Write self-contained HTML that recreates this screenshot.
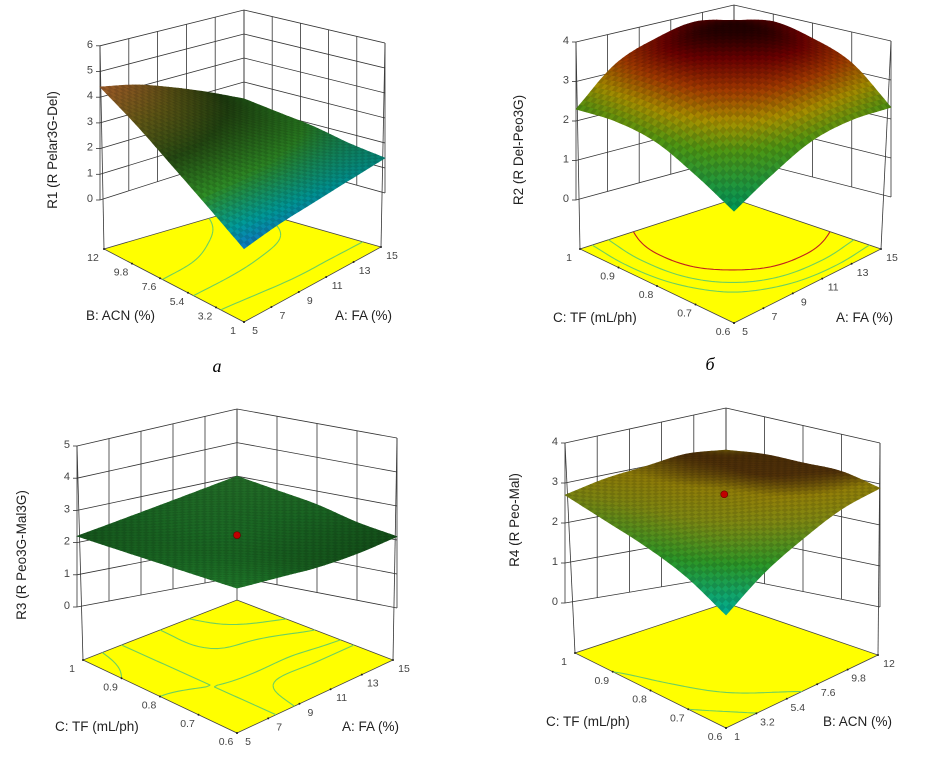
<!DOCTYPE html>
<html><head><meta charset="utf-8"><style>
html,body{margin:0;padding:0;background:#fff;}
svg{display:block;font-family:"Liberation Sans",sans-serif;}
</style></head><body>
<svg id="chart" width="927" height="758" viewBox="0 0 927 758">
<rect width="927" height="758" fill="#fff"/>
<text x="217" y="372" font-family="Liberation Serif" font-style="italic" font-size="18" text-anchor="middle">а</text>
<text x="710" y="370" font-family="Liberation Serif" font-style="italic" font-size="18" text-anchor="middle">б</text>
</svg>
<script>
// ---- data (grid rows = left-axis variable low->high, cols = right-axis variable low->high)
const gridA = [[0.9,1.1,1.2,1.3,1.4],[1.8,1.8,1.8,1.7,1.6],[2.7,2.6,2.4,2.2,1.9],[3.6,3.4,3.0,2.6,2.1],[4.4,4.1,3.6,3.0,2.3]];
const gridB = [[1.4,1.9,2.3,2.4,2.3],[1.9,2.8,3.3,3.4,3.2],[2.3,3.3,3.7,3.9,3.6],[2.4,3.4,3.9,4.0,3.8],[2.3,3.2,3.6,3.8,3.6]];
const gridC = [[2.6,2.4,2.2,2.1,2.1],[2.5,2.4,2.3,2.3,2.3],[2.4,2.4,2.5,2.5,2.6],[2.3,2.4,2.6,2.7,2.8],[2.2,2.4,2.6,2.8,3.0]];
const gridD = [[1.5,2.1,2.5,2.8,2.9],[2.0,2.5,2.8,3.0,3.1],[2.3,2.7,2.9,3.1,3.1],[2.5,2.8,3.0,3.1,3.1],[2.7,2.9,3.0,3.1,3.0]];
const zTicksA = [0,1,2,3,4,5,6];
const zTicksB = [0,1,2,3,4];
const zTicksC = [0,1,2,3,4,5];
const zTicksD = [0,1,2,3,4];
const ticksFA = ["5","7","9","11","13","15"];
const ticksACN = ["1","3.2","5.4","7.6","9.8","12"];
const ticksTF = ["0.6","0.7","0.8","0.9","1"];
const centerPointC = [2.45];
const centerPointD = [2.95];

const NS="http://www.w3.org/2000/svg";
const svg=document.getElementById('chart');
function mk(tag,attrs,parent){const e=document.createElementNS(NS,tag);for(const k in attrs)e.setAttribute(k,attrs[k]);(parent||svg).appendChild(e);return e;}

function cr(p0,p1,p2,p3,t){return 0.5*((2*p1)+(-p0+p2)*t+(2*p0-5*p1+4*p2-p3)*t*t+(-p0+3*p1-3*p2+p3)*t*t*t);}
function interp1(arr,x){const n=arr.length-1;let i=Math.min(Math.floor(x),n-1);const t=x-i;
 const g=k=>arr[Math.max(0,Math.min(n,k))];
 const e0=(i-1<0)?2*g(0)-g(1):g(i-1); const e3=(i+2>n)?2*g(n)-g(n-1):g(i+2);
 return cr(e0,g(i),g(i+1),e3,t);}
function val(grid,u,v){const n=grid.length-1;const rows=grid.map(r=>interp1(r,u*(r.length-1)));return interp1(rows,v*n);}
function bil(c,u,v){return c.F*(1-u)*(1-v)+c.R*u*(1-v)+c.L*(1-u)*v+c.B*u*v;}

function colorAt(stops,z){
 if(z<=stops[0][0])return stops[0][1];
 for(let i=1;i<stops.length;i++){if(z<=stops[i][0]){const a=stops[i-1],b=stops[i];const t=(z-a[0])/(b[0]-a[0]);return a[1].map((c,k)=>Math.round(c+(b[1][k]-c)*t));}}
 return stops[stops.length-1][1];}

function drawPanel(cfg){
 const g=mk('g',{},svg);
 
 
 const zmax=cfg.zTicks[cfg.zTicks.length-1];
 const P=(u,v,z)=>[bil(cfg.x0,u,v), bil(cfg.y0,u,v)-z*bil(cfg.h,u,v)];
 const Fl=(u,v)=>[bil(cfg.fx,u,v),bil(cfg.fy,u,v)];
 const line=(a,b,name,col,w)=>{const l=mk('line',{x1:a[0],y1:a[1],x2:b[0],y2:b[1],stroke:col||'#333','stroke-width':w||0.8},g);return l;};
 const fp=[Fl(0,0),Fl(1,0),Fl(1,1),Fl(0,1)];
 const floor=mk('polygon',{points:fp.map(p=>p.join(',')).join(' '),fill:'#ffff00',stroke:'#444','stroke-width':0.8},g);
 
 
 const N=40;
 cfg.levels.forEach(lv=>{
  let d='';
  for(let i=0;i<N;i++)for(let j=0;j<N;j++){
   const u0=i/N,u1=(i+1)/N,v0=j/N,v1=(j+1)/N;
   const c=[[u0,v0],[u1,v0],[u1,v1],[u0,v1]].map(p=>[p[0],p[1],val(cfg.grid,p[0],p[1])-lv[0]]);
   const pts=[];
   for(let k=0;k<4;k++){const a=c[k],b=c[(k+1)%4];if((a[2]<0)!==(b[2]<0)){const t=a[2]/(a[2]-b[2]);pts.push(Fl(a[0]+(b[0]-a[0])*t,a[1]+(b[1]-a[1])*t));}}
   if(pts.length>=2)d+='M'+pts[0].join(',')+'L'+pts[1].join(',');
  }
  const p=mk('path',{d:d,stroke:lv[1],'stroke-width':1.1,fill:'none'},g);
  
  
 });
 cfg.zTicks.forEach(z=>{
  line(P(0,1,z),P(1,1,z),'left-wall-gridline');
  line(P(1,1,z),P(1,0,z),'right-wall-gridline');
  const lp=P(0,1,z);
  line([lp[0]-4,lp[1]],lp,'z-tick');
  const t=mk('text',{x:lp[0]-7,y:lp[1]+2,'font-size':11,fill:'#444','text-anchor':'end'},g);
  t.textContent=z;
  
  
 });
 const nu=cfg.uTicks.length-1,nv=cfg.vTicks.length-1;
 cfg.uTicks.forEach((s,i)=>{const u=i/nu;line(P(u,1,0),P(u,1,zmax),'left-wall-vline');});
 cfg.vTicks.forEach((s,i)=>{const v=i/nv;line(P(1,v,0),P(1,v,zmax),'right-wall-vline');});
 line(Fl(0,1),P(0,1,zmax),'left-vertical-edge');
 line(Fl(1,0),P(1,0,zmax),'right-vertical-edge');
 line(Fl(1,1),P(1,1,0),'back-vertical-edge');
 cfg.vTicks.forEach((s,i)=>{const v=i/nv;const p=Fl(0,v);
  const t=mk('text',{x:p[0]-11,y:p[1]+12,'font-size':10.5,fill:'#444','text-anchor':'middle'},g);t.textContent=s;
  
  
  mk('circle',{cx:p[0],cy:p[1],r:1,fill:'#222'},g);});
 cfg.uTicks.forEach((s,i)=>{const u=i/nu;const p=Fl(u,0);
  const t=mk('text',{x:p[0]+11,y:p[1]+12,'font-size':10.5,fill:'#444','text-anchor':'middle'},g);t.textContent=s;
  
  
  mk('circle',{cx:p[0],cy:p[1],r:1,fill:'#222'},g);});
 const M=44;const quads=[];
 for(let i=0;i<M;i++)for(let j=0;j<M;j++){quads.push([i,j]);}
 quads.sort((a,b)=>(b[0]+b[1])-(a[0]+a[1]));
 const sg=mk('g',{},g);
 
 
 let cache={};
 const Z=(i,j)=>{const k=i+'_'+j;if(!(k in cache))cache[k]=val(cfg.grid,i/M,j/M);return cache[k];};
 quads.forEach(([i,j])=>{
  const pts=[[i,j],[i+1,j],[i+1,j+1],[i,j+1]].map(p=>P(p[0]/M,p[1]/M,Z(p[0],p[1])));
  const zc=(Z(i,j)+Z(i+1,j)+Z(i+1,j+1)+Z(i,j+1))/4;
  let c=colorAt(cfg.stops,zc);
  const dk=1-cfg.depth*((i+j)/(2*M));
  const tex=((i+j)%2)?0.88:1;
  c=c.map(x=>Math.round(x*dk*tex));
  const col='rgb('+c.join(',')+')';
  mk('polygon',{points:pts.map(p=>p[0].toFixed(1)+','+p[1].toFixed(1)).join(' '),fill:col,stroke:col,'stroke-width':0.6},sg);
 });
 if(cfg.center){const p=P(0.5,0.5,cfg.center[0]);const d=mk('circle',{cx:p[0],cy:p[1],r:3.5,fill:'#c00000',stroke:'#600','stroke-width':0.6},g);
  
  }
 const yt=mk('text',{transform:'translate('+cfg.ytitle[0]+','+cfg.ytitle[1]+') rotate(-90)','font-size':13.5,fill:'#222','text-anchor':'middle'},g);
 yt.textContent=cfg.ytitle[2];
 
 
 const lt=mk('text',{x:cfg.ltitle[0],y:cfg.ltitle[1],'font-size':13.5,fill:'#222'},g);
 lt.textContent=cfg.ltitle[2];
 
 
 const rt=mk('text',{x:cfg.rtitle[0],y:cfg.rtitle[1],'font-size':13.5,fill:'#222'},g);
 rt.textContent=cfg.rtitle[2];
 
 
}

drawPanel({name:'panel-a-r1',grid:gridA,zTicks:zTicksA,uTicks:ticksFA,vTicks:ticksACN,
 x0:{F:244,R:385,L:100,B:244},y0:{F:273,R:193,L:200,B:154},h:{F:27,R:25,L:25.7,B:24},
 fx:{F:244,R:381,L:104,B:244},fy:{F:322,R:247,L:249,B:208},
 stops:[[0.8,[20,110,200]],[1.3,[0,160,160]],[2.0,[50,150,40]],[2.8,[40,80,20]],[3.6,[110,100,25]],[4.5,[200,110,50]]],depth:0.35,
 levels:[[1.5,'#6cd060'],[2.2,'#6cd060'],[3.0,'#6cd060']],
 ytitle:[57,150,'R1 (R Pelar3G-Del)'],ltitle:[86,320,'B: ACN (%)'],rtitle:[335,320,'A: FA (%)']});

drawPanel({name:'panel-b-r2',grid:gridB,zTicks:zTicksB,uTicks:ticksFA,vTicks:ticksTF,
 x0:{F:734,R:891,L:576,B:734},y0:{F:270,R:197,L:200,B:157},h:{F:42,R:39,L:39.5,B:38},
 fx:{F:734,R:881,L:580,B:734},fy:{F:323,R:249,L:249,B:199},
 stops:[[1.4,[0,150,90]],[2.3,[80,155,20]],[2.8,[175,150,0]],[3.3,[170,60,0]],[3.7,[115,0,0]],[4.0,[40,0,0]]],depth:0.15,
 levels:[[2.6,'#6cd060'],[3.0,'#6cd060'],[3.4,'#c02020']],
 ytitle:[523,150,'R2 (R Del-Peo3G)'],ltitle:[553,322,'C: TF (mL/ph)'],rtitle:[836,322,'A: FA (%)']});

drawPanel({name:'panel-c-r3',grid:gridC,zTicks:zTicksC,uTicks:ticksFA,vTicks:ticksTF,
 x0:{F:237,R:397,L:77,B:237},y0:{F:674,R:608,L:607,B:577},h:{F:33,R:34,L:32.2,B:33.6},
 fx:{F:237,R:393,L:83,B:237},fy:{F:733,R:660,L:660,B:600},
 stops:[[2.0,[20,80,25]],[2.5,[30,115,40]],[3.0,[45,135,50]]],depth:0.2,
 levels:[[2.3,'#6cd060'],[2.4,'#6cd060'],[2.6,'#6cd060'],[2.75,'#6cd060']],
 ytitle:[26,555,'R3 (R Peo3G-Mal3G)'],ltitle:[55,731,'C: TF (mL/ph)'],rtitle:[342,731,'A: FA (%)'],center:centerPointC});

drawPanel({name:'panel-d-r4',grid:gridD,zTicks:zTicksD,uTicks:ticksACN,vTicks:ticksTF,
 x0:{F:726,R:880,L:565,B:726},y0:{F:678,R:607,L:603,B:576},h:{F:42,R:41,L:40,B:42},
 fx:{F:726,R:878,L:575,B:726},fy:{F:728,R:655,L:653,B:603},
 stops:[[1.5,[0,175,150]],[2.2,[45,155,40]],[2.7,[135,145,20]],[2.95,[160,140,10]],[3.1,[90,55,10]]],depth:0.2,
 levels:[[2.0,'#6cd060'],[2.5,'#6cd060']],
 ytitle:[519,520,'R4 (R Peo-Mal)'],ltitle:[546,726,'C: TF (mL/ph)'],rtitle:[823,726,'B: ACN (%)'],center:centerPointD});
</script>
</body></html>
